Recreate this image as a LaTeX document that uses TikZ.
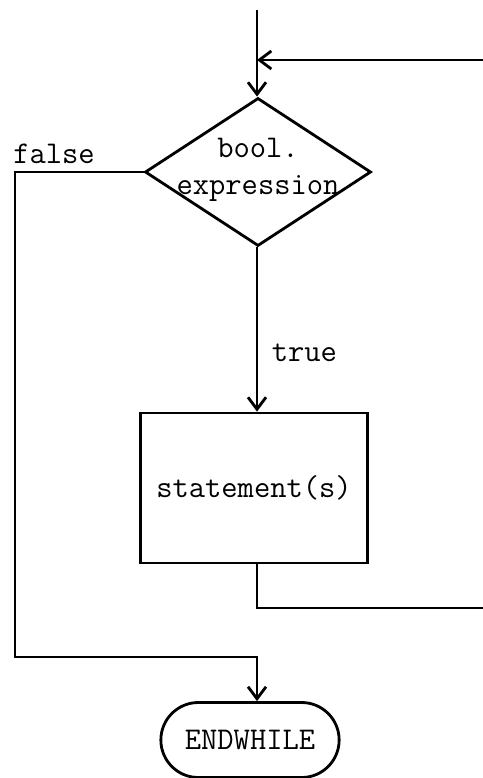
\documentclass[tikz,border=0pt]{standalone}
\usepackage{fontspec}
\usepackage{tikz}
\usetikzlibrary{shapes,arrows.meta,positioning}

\begin{document}
\begin{tikzpicture}[x=0.2mm, y=-0.2mm, line width=1.6pt,
    font=\ttfamily\fontsize{18}{21}\selectfont,
    >={Straight Barb[length=2.4mm,width=3.6mm]},
    decision/.style={draw, diamond, minimum width=45.2mm, minimum height=29.6mm, inner sep=0pt},
    process/.style={draw, rectangle, minimum width=45.4mm, minimum height=30mm},
    terminal/.style={draw, rounded rectangle, minimum width=38mm, minimum height=15mm}]
\useasboundingbox (0,0) rectangle (483,778);

\node (test) [decision] at (258,172) {};
\node (testtext) [align=center] at (258,170) {bool.\\expression};
\node (body) [process] at (254,488) {statement(s)};
\node (endwhile) [terminal] at (250,740) {ENDWHILE};

\coordinate (entry) at (257,10);
\coordinate (loopin) at (483,60);
\coordinate (loopout) at (483,608);
\coordinate (fcorner) at (15,172);
\coordinate (fjoin) at (257,657);

\draw[->] (entry) -- (entry |- test.north);
\draw[->] (loopin) -- (entry |- loopin);
\draw[->] (entry |- test.south) -- node[pos=0.64, right=1.5mm] (truelbl) {true} (entry |- body.north);
\draw (entry |- body.south) |- (loopout);
\draw[->] (test.west) -- (fcorner) |- (fjoin) -- (fjoin |- endwhile.north);
\node (falselbl) at (54,154) {false};
\end{tikzpicture}
\end{document}
